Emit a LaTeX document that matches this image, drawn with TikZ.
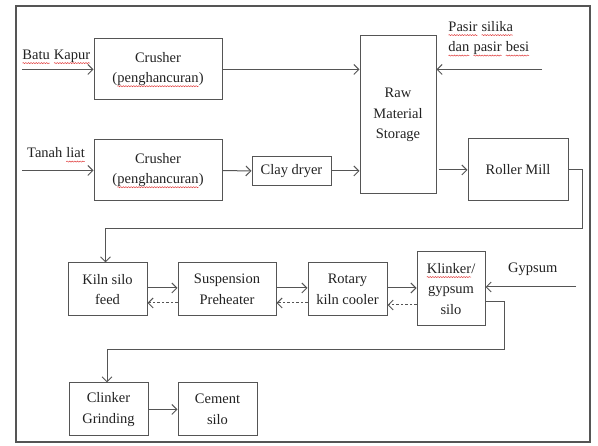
\documentclass[tikz,border=0pt]{standalone}
\usepackage{fontspec}
\setmainfont{Liberation Serif}
\usetikzlibrary{arrows.meta,decorations.pathmorphing,calc}
\definecolor{ln}{HTML}{555555}
\definecolor{tx}{HTML}{222222}
\definecolor{sq}{HTML}{E04040}
\newcommand\squig[1]{\tikz[baseline=(w.base)]{\node[shape=rectangle,inner sep=0pt,outer sep=0pt,minimum width=0pt,minimum height=0pt,draw=none,anchor=center](w) at (0,0){#1};\draw[sq,line width=0.5pt,decorate,decoration={snake,amplitude=0.55pt,segment length=2.6pt}] ([yshift=-3.6pt]w.base west)--([yshift=-3.6pt]w.base east);}}
\begin{document}
\begin{tikzpicture}[x=1pt,y=-1pt,
  every node/.style={font=\fontsize{14.5}{20.5}\selectfont,text=tx},
  box/.style={draw=ln,line width=1pt,align=center,inner sep=0pt},
  arr/.style={draw=ln,line width=1pt,-{Straight Barb[length=5pt,width=10pt,line width=1pt]}},
  darr/.style={arr,dashed,dash pattern=on 2.5pt off 2pt},
  lbl/.style={inner sep=0pt}]
\useasboundingbox (0,0) rectangle (598,446);
\draw[ln,line width=1.2pt] (16,6) rectangle (590,442);
% boxes
\node[box,minimum width=128pt,minimum height=61pt] (c1) at (158,69.5) {Crusher\\(\squig{penghancuran})};
\node[box,minimum width=128pt,minimum height=61pt] (c2) at (158,170.5) {Crusher\\(\squig{penghancuran})};
\node[box,minimum width=79pt,minimum height=29pt] (cd) at (291.5,171) {Clay dryer};
\node[box,minimum width=76pt,minimum height=158pt] (rms) at (398,115) {Raw\\Material\\Storage};
\node[box,minimum width=100pt,minimum height=62pt] (rm) at (518,170) {Roller Mill};
\node[box,minimum width=79pt,minimum height=53pt] (ksf) at (107.5,289.5) {Kiln silo\\feed};
\node[box,minimum width=98pt,minimum height=53pt] (sp) at (227,289.5) {Suspension\\Preheater};
\node[box,minimum width=79pt,minimum height=53pt] (rk) at (347.5,289.5) {Rotary\\kiln cooler};
\node[box,minimum width=68pt,minimum height=74pt] (ks) at (451,289) {\squig{Klinker}/\\gypsum\\silo};
\node[box,minimum width=79pt,minimum height=53pt] (cg) at (108.5,409.5) {Clinker\\Grinding};
\node[box,minimum width=79pt,minimum height=53pt] (cs) at (217.5,409.5) {Cement\\silo};
% labels
\node[lbl,anchor=base west] (lbk) at (22,59.5) {\squig{Batu} \squig{Kapur}};
\node[lbl,anchor=base west] (ltl) at (27,158) {Tanah \squig{liat}};
\node[lbl,anchor=base west,align=left] (lps) at (448,52) {\squig{Pasir} \squig{silika}\\\squig{dan} \squig{pasir} \squig{besi}};
\node[lbl,anchor=base west] (lgy) at (508,273) {Gypsum};
% free ends
\coordinate (bk) at (22,69.5);
\coordinate (tl) at (22,170.5);
\coordinate (ps) at (542,69.5);
\coordinate (gy) at (576,287);
\coordinate (t1) at (582,229);
\coordinate (t2) at (504,350);
% connectors
\draw[arr] (bk) -- (c1.west);
\draw[arr] (tl) -- (c2.west);
\draw[arr] (c1.east) -- (c1.east -| rms.west);
\draw[arr] (ps) -- (ps -| rms.east);
\draw[arr] (c2.east) -- (cd.west);
\draw[arr] (cd.east) -- (cd.east -| rms.west);
\draw[arr] ([xshift=2pt]rm.west -| rms.east) -- (rm.west);
\draw[arr] (rm.east) -| (t1) -| ([xshift=-2pt]ksf.north);
\draw[arr] ([yshift=1.5pt]ksf.east) -- ([yshift=1.5pt]sp.west);
\draw[darr] ([yshift=-13.5pt]sp.west) -- ([yshift=-13.5pt]ksf.east);
\draw[arr] ([yshift=1.5pt]sp.east) -- ([yshift=1.5pt]rk.west);
\draw[darr] ([yshift=-13.5pt]rk.west) -- ([yshift=-13.5pt]sp.east);
\draw[arr] ([yshift=1.5pt]rk.east) -- ([yshift=1.5pt]rk.east -| ks.west);
\draw[darr] ([yshift=-15.5pt]rk.east -| ks.west) -- ([yshift=-15.5pt]rk.east);
\draw[arr] (gy) -- (gy -| ks.east);
\draw[arr] ([yshift=-13pt]ks.east) -| (t2) -| ([xshift=-1.5pt]cg.north);
\draw[arr] (cg.east) -- (cs.west);
\end{tikzpicture}
\end{document}
